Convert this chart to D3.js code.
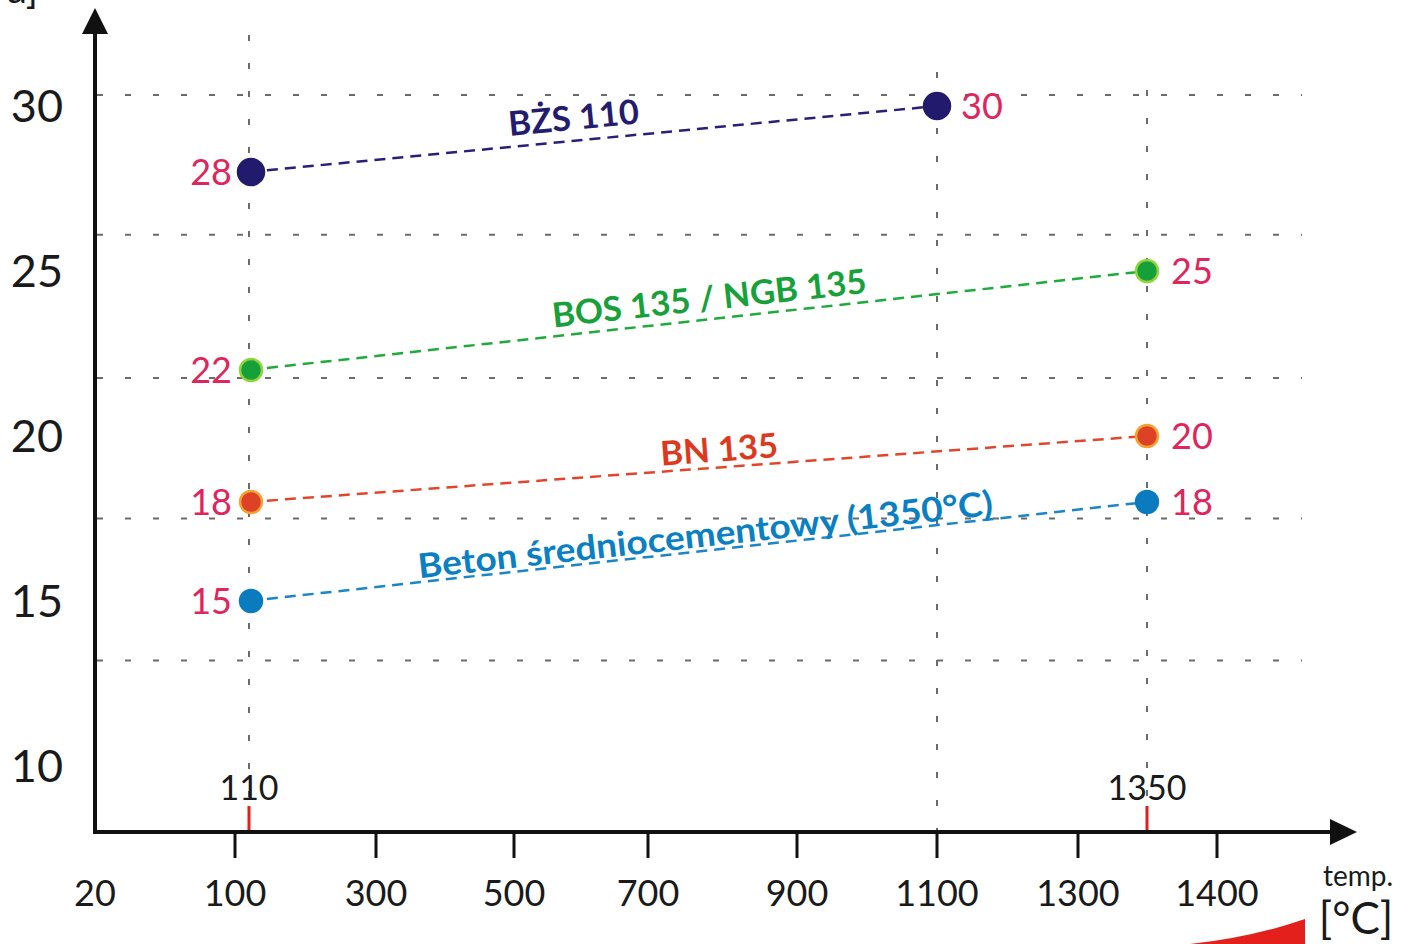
<!DOCTYPE html>
<html>
<head>
<meta charset="utf-8">
<script src="https://cdn.jsdelivr.net/npm/d3@7"></script>
<style>
  body { margin: 0; background: #fff; }
  svg { display: block; font-family: Lato, "Open Sans", sans-serif; }
</style>
</head>
<body>
<svg width="1402" height="944"></svg>
<script>
// Data: wytrzymalosc na sciskanie [MPa] po wypaleniu w danej temperaturze
var series = ["BŻS 110", "BOS 135 / NGB 135", "BN 135", "Beton średniocementowy (1350°C)"];
var startTemp = [110, 110, 110, 110];
var endTemp = [1100, 1350, 1350, 1350];
var startValue = [28, 22, 18, 15];
var endValue = [30, 25, 20, 18];

// Tick labels
var xTickValues = [20, 100, 300, 500, 700, 900, 1100, 1300, 1400];
var xMarked = [110, 1350];
var yTickValues = [30, 25, 20, 15, 10];
var gridValues = [30.33, 26.1, 21.76, 17.5, 13.2];
var gridTemps = [110, 1100, 1350];

// Styles
var lineColor = ["#2a1f78", "#1faa3c", "#e2452c", "#1a86c6"];
var dotFill = ["#221a6c", "#16a03a", "#dd4126", "#0a7bbf"];
var dotStroke = ["#221a6c", "#8fd43a", "#f3a233", "#0a7bbf"];
var dotRadius = [13, 11, 11, 11];
var labelColor = ["#241c6c", "#18a03a", "#dc3a20", "#0a80c2"];
var labelT = [0.475, 0.515, 0.525, 0.51];
var labelDy = [-11, -9, -6, -4];
var labelLen = [131, 316, 118, 578];
var valueColor = "#e0245c";

var svg = d3.select("svg");

svg.append("rect").attr("width", 1402).attr("height", 944).attr("fill", "#fff");

// Os X nie jest liniowa: kazdy opis ma wlasna pozycje (mniej wiecej rowne odstepy)
var x = d3.scaleLinear()
    .domain([20, 100, 110, 300, 500, 700, 900, 1100, 1300, 1350, 1400])
    .range([95, 235, 249, 376, 514, 648, 797, 937, 1078, 1147, 1217]);

var y = d3.scaleLinear().domain([10, 30]).range([766, 106]);

var axisY = 832;

// Siatka pozioma
svg.append("g")
  .selectAll("line")
  .data(gridValues)
  .enter().append("line")
    .attr("x1", 97)
    .attr("x2", 1302)
    .attr("y1", function(d) { return y(d); })
    .attr("y2", function(d) { return y(d); })
    .attr("stroke", "#6b6b6b")
    .attr("stroke-width", 2)
    .attr("stroke-dasharray", "6 22");

// Siatka pionowa
var gridTop = [35, 72, 90];
svg.append("g")
  .selectAll("line")
  .data(gridTemps)
  .enter().append("line")
    .attr("x1", function(d) { return x(d); })
    .attr("x2", function(d) { return x(d); })
    .attr("y1", function(d, i) { return gridTop[i]; })
    .attr("y2", axisY)
    .attr("stroke", "#6b6b6b")
    .attr("stroke-width", 2)
    .attr("stroke-dasharray", "6 22");

// Osie ze strzalkami
svg.append("line")
    .attr("x1", 95).attr("x2", 95)
    .attr("y1", axisY + 2).attr("y2", 30)
    .attr("stroke", "#111").attr("stroke-width", 4);
svg.append("path")
    .attr("d", "M95,8 L82,34 L108,34 Z")
    .attr("fill", "#111");
svg.append("line")
    .attr("x1", 93).attr("x2", 1335)
    .attr("y1", axisY).attr("y2", axisY)
    .attr("stroke", "#111").attr("stroke-width", 4);
svg.append("path")
    .attr("d", "M1357," + axisY + " L1330," + (axisY - 13) + " L1330," + (axisY + 13) + " Z")
    .attr("fill", "#111");

// Znaczniki osi X
var ticks = svg.append("g");
ticks.selectAll("line")
  .data(xTickValues.slice(1))
  .enter().append("line")
    .attr("x1", function(d) { return x(d); })
    .attr("x2", function(d) { return x(d); })
    .attr("y1", axisY)
    .attr("y2", axisY + 26)
    .attr("stroke", "#111")
    .attr("stroke-width", 3);

ticks.selectAll("text")
  .data(xTickValues)
  .enter().append("text")
    .attr("x", function(d) { return x(d); })
    .attr("y", axisY + 74)
    .attr("text-anchor", "middle")
    .attr("font-size", 36)
    .attr("fill", "#1a1a1a")
    .text(function(d) { return d; });

// Czerwone znaczniki 110 i 1350
var marked = svg.append("g");
marked.selectAll("line")
  .data(xMarked)
  .enter().append("line")
    .attr("x1", function(d) { return x(d); })
    .attr("x2", function(d) { return x(d); })
    .attr("y1", axisY - 26)
    .attr("y2", axisY - 2)
    .attr("stroke", "#e0201c")
    .attr("stroke-width", 3);
marked.selectAll("text")
  .data(xMarked)
  .enter().append("text")
    .attr("x", function(d) { return x(d); })
    .attr("y", axisY - 32)
    .attr("text-anchor", "middle")
    .attr("font-size", 34)
    .attr("fill", "#1a1a1a")
    .text(function(d) { return d; });

// Opisy osi Y
svg.append("g")
  .selectAll("text")
  .data(yTickValues)
  .enter().append("text")
    .attr("x", 63)
    .attr("y", function(d) { return y(d); })
    .attr("dy", "0.36em")
    .attr("text-anchor", "end")
    .attr("font-size", 45)
    .attr("fill", "#1a1a1a")
    .text(function(d) { return d; });

// Jednostka osi Y (ucieta u gory, jak w oryginale)
svg.append("text")
    .attr("x", 38).attr("y", 3)
    .attr("text-anchor", "end")
    .attr("font-size", 40)
    .attr("fill", "#1a1a1a")
    .text("[MPa]");

// Jednostka osi X
svg.append("text")
    .attr("x", 1358).attr("y", 886)
    .attr("text-anchor", "middle")
    .attr("font-size", 28)
    .attr("fill", "#1a1a1a")
    .text("temp.");
svg.append("text")
    .attr("x", 1356).attr("y", 934)
    .attr("text-anchor", "middle")
    .attr("font-size", 44)
    .attr("fill", "#1a1a1a")
    .text("[°C]");

// Czerwony klin (fragment skali temperatury)
svg.append("path")
    .attr("d", "M1190,944 Q1250,938 1305,919 L1305,944 Z")
    .attr("fill", "#e3201b");

// Serie: linie, punkty, etykiety
var idx = d3.range(series.length);

svg.append("g")
  .selectAll("line")
  .data(idx)
  .enter().append("line")
    .attr("x1", function(i) { return x(startTemp[i]); })
    .attr("y1", function(i) { return y(startValue[i]); })
    .attr("x2", function(i) { return x(endTemp[i]); })
    .attr("y2", function(i) { return y(endValue[i]); })
    .attr("stroke", function(i) { return lineColor[i]; })
    .attr("stroke-width", 2.5)
    .attr("stroke-dasharray", "11 7");

var points = [];
idx.forEach(function(i) {
  points.push({ s: i, t: startTemp[i], v: startValue[i], side: "left" });
  points.push({ s: i, t: endTemp[i], v: endValue[i], side: "right" });
});

svg.append("g")
  .selectAll("circle")
  .data(points)
  .enter().append("circle")
    .attr("cx", function(d) { return x(d.t) + (d.side == "left" ? 2 : 0); })
    .attr("cy", function(d) { return y(d.v); })
    .attr("r", function(d) { return dotRadius[d.s]; })
    .attr("fill", function(d) { return dotFill[d.s]; })
    .attr("stroke", function(d) { return dotStroke[d.s]; })
    .attr("stroke-width", 2.5);

svg.append("g")
  .selectAll("text")
  .data(points)
  .enter().append("text")
    .attr("x", function(d) { return d.side == "left" ? x(d.t) - 17 : x(d.t) + 24; })
    .attr("y", function(d) { return y(d.v); })
    .attr("dy", "0.36em")
    .attr("text-anchor", function(d) { return d.side == "left" ? "end" : "start"; })
    .attr("font-size", 36)
    .attr("fill", valueColor)
    .text(function(d) { return d.v; });

// Nazwy serii wzdluz linii
svg.append("g")
  .selectAll("text")
  .data(idx)
  .enter().append("text")
    .attr("transform", function(i) {
      var x0 = x(startTemp[i]), y0 = y(startValue[i]),
          x1 = x(endTemp[i]), y1 = y(endValue[i]);
      var px = x0 + labelT[i] * (x1 - x0),
          py = y0 + labelT[i] * (y1 - y0),
          a = Math.atan2(y1 - y0, x1 - x0) * 180 / Math.PI;
      return "translate(" + px + "," + py + ") rotate(" + a + ")";
    })
    .attr("dy", function(i) { return labelDy[i]; })
    .attr("text-anchor", "middle")
    .attr("font-size", 34)
    .attr("font-weight", "bold")
    .attr("textLength", function(i) { return labelLen[i]; })
    .attr("lengthAdjust", "spacingAndGlyphs")
    .attr("fill", function(i) { return labelColor[i]; })
    .text(function(i) { return series[i]; });
</script>
</body>
</html>
